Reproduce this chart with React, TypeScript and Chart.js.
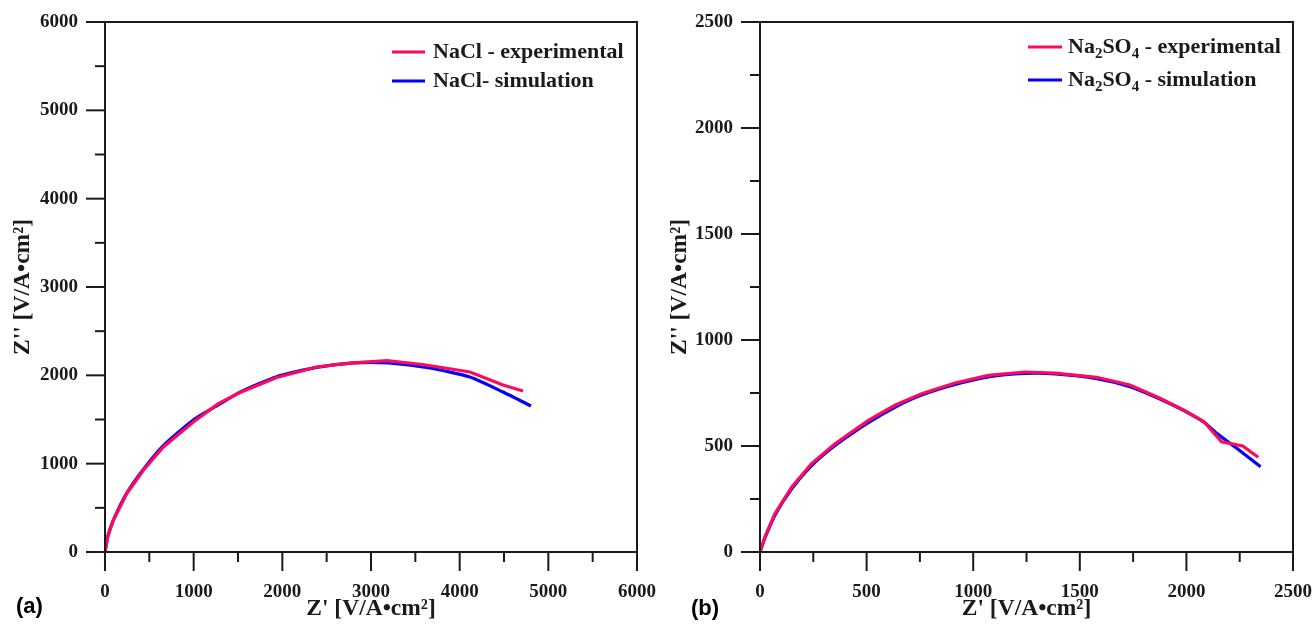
import React, { useEffect, useRef } from 'react';
import { Chart, registerables } from 'chart.js';

Chart.register(...registerables);

// ---------- Data: panel (a) NaCl ----------
const naclExpX = [0, 30, 94, 244, 432, 658, 996, 1278, 1523, 1936, 2387, 2801, 3180, 3600, 4116, 4489, 4714];
const naclExpY = [0, 175, 358, 660, 925, 1189, 1472, 1679, 1805, 1975, 2094, 2140, 2166, 2120, 2038, 1890, 1823];
const naclSimX = [0, 30, 94, 244, 432, 658, 996, 1278, 1523, 1936, 2387, 2801, 3200, 3665, 4116, 4489, 4804];
const naclSimY = [0, 170, 360, 665, 935, 1205, 1495, 1665, 1810, 1985, 2090, 2140, 2140, 2083, 1981, 1811, 1653];
const naclTicks = [0, 1000, 2000, 3000, 4000, 5000, 6000];
const naclLabels = ['NaCl - experimental', 'NaCl- simulation'];

// ---------- Data: panel (b) Na2SO4 ----------
const so4ExpX = [0, 23, 70, 149, 242, 352, 508, 633, 758, 915, 1071, 1243, 1384, 1579, 1735, 1876, 1986, 2083, 2165, 2264, 2337];
const so4ExpY = [0, 71, 181, 307, 417, 511, 621, 692, 747, 797, 833, 849, 844, 824, 788, 725, 670, 614, 520, 500, 447];
const so4SimX = [0, 23, 70, 149, 242, 352, 508, 633, 758, 915, 1071, 1243, 1384, 1579, 1735, 1876, 1986, 2083, 2142, 2236, 2348];
const so4SimY = [0, 66, 174, 298, 407, 502, 610, 683, 740, 790, 826, 842, 840, 818, 780, 722, 668, 612, 560, 489, 402];
const so4Ticks = [0, 500, 1000, 1500, 2000, 2500];
const so4Labels = ['Na_2SO_4 - experimental', 'Na_2SO_4 - simulation'];

const xTitle = "Z' [V/A\u2022cm\u00B2]";
const yTitle = "Z'' [V/A\u2022cm\u00B2]";

const EXP_COLOR = '#FF0A5A';
const SIM_COLOR = '#0000FF';
const INK = '#1a1a1a';
const SERIF = "'Liberation Serif', 'Times New Roman', serif";
const SANS = "'Liberation Sans', Arial, sans-serif";

const toPts = (xs: number[], ys: number[]) => xs.map((x, i) => ({ x, y: ys[i] }));

const framePlugin = {
  id: 'frame',
  afterDatasetsDraw(chart: any, _args: any, opts: any) {
    const { ctx, chartArea: a } = chart;
    const xs = chart.scales.x;
    const ys = chart.scales.y;
    ctx.save();
    ctx.strokeStyle = INK;
    ctx.lineWidth = 2;
    ctx.lineCap = 'square';
    ctx.strokeRect(a.left, a.top, a.right - a.left, a.bottom - a.top);
    const ticks: number[] = opts.ticks;
    const drawTicks = (scale: any, horiz: boolean) => {
      const vals: { v: number; major: boolean }[] = [];
      ticks.forEach((v, i) => {
        vals.push({ v, major: true });
        if (i < ticks.length - 1) vals.push({ v: (v + ticks[i + 1]) / 2, major: false });
      });
      vals.forEach(({ v, major }) => {
        const p = scale.getPixelForValue(v);
        const len = major ? 18 : 9;
        ctx.beginPath();
        if (horiz) {
          ctx.moveTo(p, a.bottom);
          ctx.lineTo(p, a.bottom + len);
        } else {
          ctx.moveTo(a.left, p);
          ctx.lineTo(a.left - len, p);
        }
        ctx.stroke();
      });
    };
    drawTicks(xs, true);
    drawTicks(ys, false);

    // legend inside the plot
    const lg = opts.legend;
    chart.data.datasets.forEach((ds: any, i: number) => {
      const y = lg.y0 + i * lg.dy;
      ctx.strokeStyle = ds.borderColor;
      ctx.lineWidth = 3;
      ctx.lineCap = 'butt';
      ctx.beginPath();
      ctx.moveTo(lg.x0, y);
      ctx.lineTo(lg.x0 + lg.len, y);
      ctx.stroke();
      let tx = lg.tx;
      const parts = String(ds.label).split(/_(\d)/);
      ctx.fillStyle = INK;
      ctx.textBaseline = 'middle';
      ctx.textAlign = 'left';
      parts.forEach((part: string, k: number) => {
        const sub = k % 2 === 1;
        ctx.font = sub ? `bold 15px ${SERIF}` : `bold 22px ${SERIF}`;
        ctx.fillText(part, tx, sub ? y + 7 : y);
        tx += ctx.measureText(part).width;
      });
    });

    // panel letter
    ctx.font = `bold 22px ${SANS}`;
    ctx.fillStyle = '#000';
    ctx.textBaseline = 'middle';
    ctx.textAlign = 'left';
    ctx.fillText(opts.letter, opts.letterX, opts.letterY);
    ctx.restore();
  },
};

type PanelCfg = {
  expX: number[];
  expY: number[];
  simX: number[];
  simY: number[];
  ticks: number[];
  labels: string[];
  yWidth: number;
  padRight: number;
  legend: { x0: number; len: number; tx: number; y0: number; dy: number };
  letter: string;
  letterX: number;
  letterY: number;
};

const zeroPad = (s: any) => {
  s.paddingTop = 0;
  s.paddingBottom = 0;
  s.paddingLeft = 0;
  s.paddingRight = 0;
};

function Panel({ cfg, left, width }: { cfg: PanelCfg; left: number; width: number }) {
  const ref = useRef<HTMLCanvasElement | null>(null);
  useEffect(() => {
    if (!ref.current) return;
    const tickFont = { family: SERIF, weight: 'bold' as const, size: 19 };
    const titleFont = { family: SERIF, weight: 'bold' as const, size: 23.5 };
    const max = cfg.ticks[cfg.ticks.length - 1];
    const chart = new Chart(ref.current, {
      type: 'scatter',
      data: {
        datasets: [
          {
            label: cfg.labels[0],
            data: toPts(cfg.expX, cfg.expY),
            borderColor: EXP_COLOR,
            backgroundColor: EXP_COLOR,
            borderWidth: 3.2,
            showLine: true,
            pointRadius: 0,
            tension: 0,
          },
          {
            label: cfg.labels[1],
            data: toPts(cfg.simX, cfg.simY),
            borderColor: SIM_COLOR,
            backgroundColor: SIM_COLOR,
            borderWidth: 3.2,
            showLine: true,
            pointRadius: 0,
            tension: 0.2,
          },
        ],
      },
      options: {
        animation: false,
        responsive: false,
        maintainAspectRatio: false,
        layout: { padding: { top: 22, right: cfg.padRight, left: 0, bottom: 0 } },
        plugins: {
          legend: { display: false },
          tooltip: { enabled: false },
          frame: {
            ticks: cfg.ticks,
            legend: cfg.legend,
            letter: cfg.letter,
            letterX: cfg.letterX,
            letterY: cfg.letterY,
          },
        } as any,
        scales: {
          x: {
            type: 'linear',
            min: 0,
            max,
            afterBuildTicks: (s: any) => {
              s.ticks = cfg.ticks.map((v) => ({ value: v }));
            },
            afterFit: (s: any) => {
              s.height = 74;
              zeroPad(s);
            },
            grid: { display: false, drawTicks: false },
            border: { display: false },
            ticks: { font: tickFont, color: INK, padding: 29, maxRotation: 0, autoSkip: false, callback: (v: any) => String(v) },
            title: { display: true, text: xTitle, font: titleFont, color: INK, padding: { top: 0, bottom: 3 } },
          },
          y: {
            type: 'linear',
            min: 0,
            max,
            afterBuildTicks: (s: any) => {
              s.ticks = cfg.ticks.map((v) => ({ value: v }));
            },
            afterFit: (s: any) => {
              s.width = cfg.yWidth;
              zeroPad(s);
            },
            grid: { display: false, drawTicks: false },
            border: { display: false },
            ticks: { font: tickFont, color: INK, padding: 27, autoSkip: false, callback: (v: any) => String(v) },
            title: { display: true, text: yTitle, font: titleFont, color: INK, padding: { top: 9, bottom: 0 } },
          },
        },
      },
      plugins: [framePlugin],
    } as any);
    return () => chart.destroy();
  }, [cfg]);
  return (
    <canvas
      ref={ref}
      width={width}
      height={626}
      style={{ position: 'absolute', left, top: 0, width, height: 626 }}
    />
  );
}

const panelA: PanelCfg = {
  expX: naclExpX,
  expY: naclExpY,
  simX: naclSimX,
  simY: naclSimY,
  ticks: naclTicks,
  labels: naclLabels,
  yWidth: 105,
  padRight: 20,
  legend: { x0: 392, len: 33, tx: 433, y0: 52, dy: 29 },
  letter: '(a)',
  letterX: 16,
  letterY: 607,
};

const panelB: PanelCfg = {
  expX: so4ExpX,
  expY: so4ExpY,
  simX: so4SimX,
  simY: so4SimY,
  ticks: so4Ticks,
  labels: so4Labels,
  yWidth: 103,
  padRight: 22,
  legend: { x0: 371, len: 34, tx: 411, y0: 47, dy: 33 },
  letter: '(b)',
  letterX: 34,
  letterY: 609,
};

export default function App() {
  return (
    <div style={{ position: 'fixed', left: 0, top: 0, width: 1315, height: 626, background: '#fff', overflow: 'hidden' }}>
      <Panel cfg={panelA} left={0} width={657} />
      <Panel cfg={panelB} left={657} width={658} />
    </div>
  );
}
